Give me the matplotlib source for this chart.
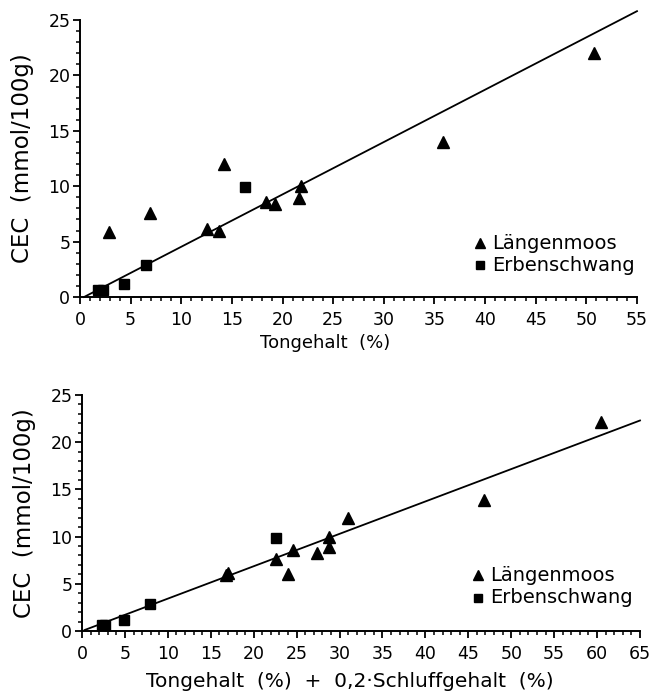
import matplotlib.pyplot as plt
from matplotlib.ticker import MultipleLocator

# Panel 1: CEC vs Tongehalt
ton_laeng = [2.9, 6.9, 12.5, 13.7, 14.2, 18.4, 19.3, 21.6, 21.8, 35.8, 50.8]
cec_laeng = [5.9, 7.6, 6.1, 6.0, 12.0, 8.6, 8.4, 8.9, 10.0, 14.0, 22.0]
ton_erb = [1.8, 2.3, 4.3, 6.5, 16.3]
cec_erb = [0.6, 0.6, 1.2, 2.9, 9.9]
fit1_x = [0.4, 55]
fit1_y = [0.0, 25.8]

# Panel 2: CEC vs Tongehalt + 0,2*Schluffgehalt
mix_laeng = [16.8, 17.0, 22.6, 24.0, 24.6, 27.4, 28.8, 28.8, 31.0, 46.8, 60.4]
cec2_laeng = [5.9, 6.1, 7.6, 6.0, 8.6, 8.3, 8.9, 10.0, 12.0, 13.9, 22.1]
mix_erb = [2.3, 2.7, 4.9, 7.9, 22.6]
cec2_erb = [0.6, 0.6, 1.2, 2.9, 9.9]
fit2_x = [0.3, 65]
fit2_y = [0.1, 22.3]

plt.rcParams["font.family"] = "DejaVu Sans"

fig = plt.figure(figsize=(6.54, 6.93), dpi=100)
ax1 = fig.add_axes([0.1223, 0.5714, 0.8517, 0.3997])
ax2 = fig.add_axes([0.1254, 0.0895, 0.8532, 0.3405])


def style_axes(ax, xmax):
    ax.set_xlim(0, xmax)
    ax.set_ylim(0, 25)
    for s in ("top", "right"):
        ax.spines[s].set_visible(False)
    for s in ("left", "bottom"):
        ax.spines[s].set_linewidth(1.4)
    ax.xaxis.set_major_locator(MultipleLocator(5))
    ax.xaxis.set_minor_locator(MultipleLocator(1))
    ax.yaxis.set_major_locator(MultipleLocator(5))
    ax.yaxis.set_minor_locator(MultipleLocator(1))
    ax.tick_params(which="major", direction="out", length=5, width=1.3,
                   labelsize=12.5, pad=2)
    ax.tick_params(axis="x", which="major", pad=5)
    ax.tick_params(which="minor", direction="out", length=3, width=1.1)
    ax.text(-0.103, 0.5, "CEC  (mmol/100g)", transform=ax.transAxes,
            rotation=90, ha="center", va="center", fontsize=16.5)


def legend(ax, x, y1, y2):
    ax.plot([x], [y1], marker="^", color="black", ms=6.5,
            transform=ax.transAxes, clip_on=False)
    ax.plot([x], [y2], marker="s", color="black", ms=5.5,
            transform=ax.transAxes, clip_on=False)
    ax.text(x + 0.022, y1, "Längenmoos", transform=ax.transAxes,
            fontsize=14, va="center", ha="left")
    ax.text(x + 0.022, y2, "Erbenschwang", transform=ax.transAxes,
            fontsize=14, va="center", ha="left")


style_axes(ax1, 55)
ax1.plot(fit1_x, fit1_y, color="black", lw=1.3, clip_on=False)
ax1.plot(ton_laeng, cec_laeng, "^", color="black", ms=8, clip_on=False)
ax1.plot(ton_erb, cec_erb, "s", color="black", ms=7, clip_on=False)
ax1.set_xlabel("Tongehalt  (%)", fontsize=13, labelpad=4)
ax1.xaxis.set_label_coords(0.44, -0.135)
legend(ax1, 0.718, 0.195, 0.115)

style_axes(ax2, 65)
ax2.plot(fit2_x, fit2_y, color="black", lw=1.3, clip_on=False)
ax2.plot(mix_laeng, cec2_laeng, "^", color="black", ms=8, clip_on=False)
ax2.plot(mix_erb, cec2_erb, "s", color="black", ms=7, clip_on=False)
ax2.set_xlabel("Tongehalt  (%)  +  0,2·Schluffgehalt  (%)", fontsize=14.5,
               labelpad=4)
ax2.xaxis.set_label_coords(0.48, -0.172)
legend(ax2, 0.709, 0.237, 0.14)

fig.savefig("out.png", dpi=100)
